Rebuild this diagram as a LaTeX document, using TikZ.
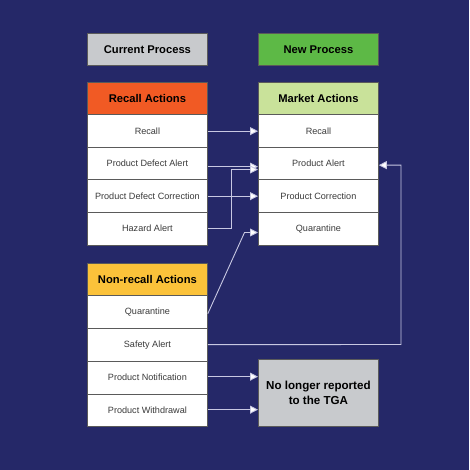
\documentclass[tikz,border=0pt]{standalone}
\usepackage{fontspec}
\setmainfont{Liberation Sans}
\usetikzlibrary{arrows.meta}
\definecolor{bg}{HTML}{252868}
\definecolor{greybox}{HTML}{C8CACD}
\definecolor{greenbox}{HTML}{5DB946}
\definecolor{orangebox}{HTML}{F15A24}
\definecolor{lightgreen}{HTML}{C9E29A}
\definecolor{yellowbox}{HTML}{FBC23A}
\definecolor{linecol}{HTML}{C8C8E2}
\definecolor{edge}{HTML}{5A5A5A}
\definecolor{txt}{HTML}{3A3A3A}
\tikzset{
  box/.style={draw=edge, line width=0.8pt, minimum width=120pt, minimum height=32.5pt, inner sep=0pt, anchor=north west, align=center},
  hdr/.style={box, font=\bfseries\fontsize{11.2}{13.5}\selectfont, text=black},
  row/.style={box, fill=white, font=\fontsize{9.1}{11}\selectfont, text=txt},
  conn/.style={draw=linecol, line width=0.9pt},
  arr/.style={conn, -{Triangle[length=8pt,width=8pt,fill=white]}},
}
\begin{document}
\begin{tikzpicture}[x=1pt,y=-1pt]
\fill[bg] (0,0) rectangle (469,470);
\useasboundingbox (0,0) rectangle (469,470);
% top headers
\node[hdr, fill=greybox] (cur) at (87,33) {Current Process};
\node[hdr, fill=greenbox] (new) at (258,33) {New Process};
% left recall
\node[hdr, fill=orangebox, minimum height=32pt] (ra) at (87,82) {Recall Actions};
\node[row] (l1) at (87,114.5) {Recall};
\node[row] (l2) at (87,147) {Product Defect Alert};
\node[row] (l3) at (87,179.5) {Product Defect Correction};
\node[row] (l4) at (87,212) {Hazard Alert};
% right market
\node[hdr, fill=lightgreen, minimum height=32pt] (ma) at (258,82) {Market Actions};
\node[row] (r1) at (258,114.5) {Recall};
\node[row] (r2) at (258,147) {Product Alert};
\node[row] (r3) at (258,179.5) {Product Correction};
\node[row] (r4) at (258,212) {Quarantine};
% non-recall
\node[hdr, fill=yellowbox, minimum height=32pt] (na) at (87,263) {Non-recall Actions};
\node[row] (n1) at (87,295) {Quarantine};
\node[row] (n2) at (87,328) {Safety Alert};
\node[row] (n3) at (87,361) {Product Notification};
\node[row] (n4) at (87,393.5) {Product Withdrawal};
% no longer
\node[hdr, fill=greybox, minimum height=67pt, font=\bfseries\fontsize{11.6}{14.5}\selectfont] (nl) at (258,359) {No longer reported\\to the TGA};
% connectors
\coordinate (hz) at (231,169.5);
\coordinate (qz) at (244.5,232.5);
\coordinate (sz) at (401,344.5);
\draw[arr] (l1.east) -- (r1.west);
\draw[arr] ([yshift=-3pt]l2.east) -- ([yshift=-3pt]r2.west);
\draw[arr] (l3.east) -- (r3.west);
\draw[arr] (l4.east) -| (hz) -- (hz -| r2.west);
\draw[arr] ([yshift=-2pt]n1.east) -- (qz) -- (qz -| r4.west);
\draw[arr] (n2.east) -- (sz) |- ([yshift=-1.5pt]r2.east);
\draw[arr] ([yshift=1pt]n3.east) -- ([yshift=1pt]n3.east -| nl.west);
\draw[arr] ([yshift=0.5pt]n4.east) -- ([yshift=0.5pt]n4.east -| nl.west);
\end{tikzpicture}
\end{document}
